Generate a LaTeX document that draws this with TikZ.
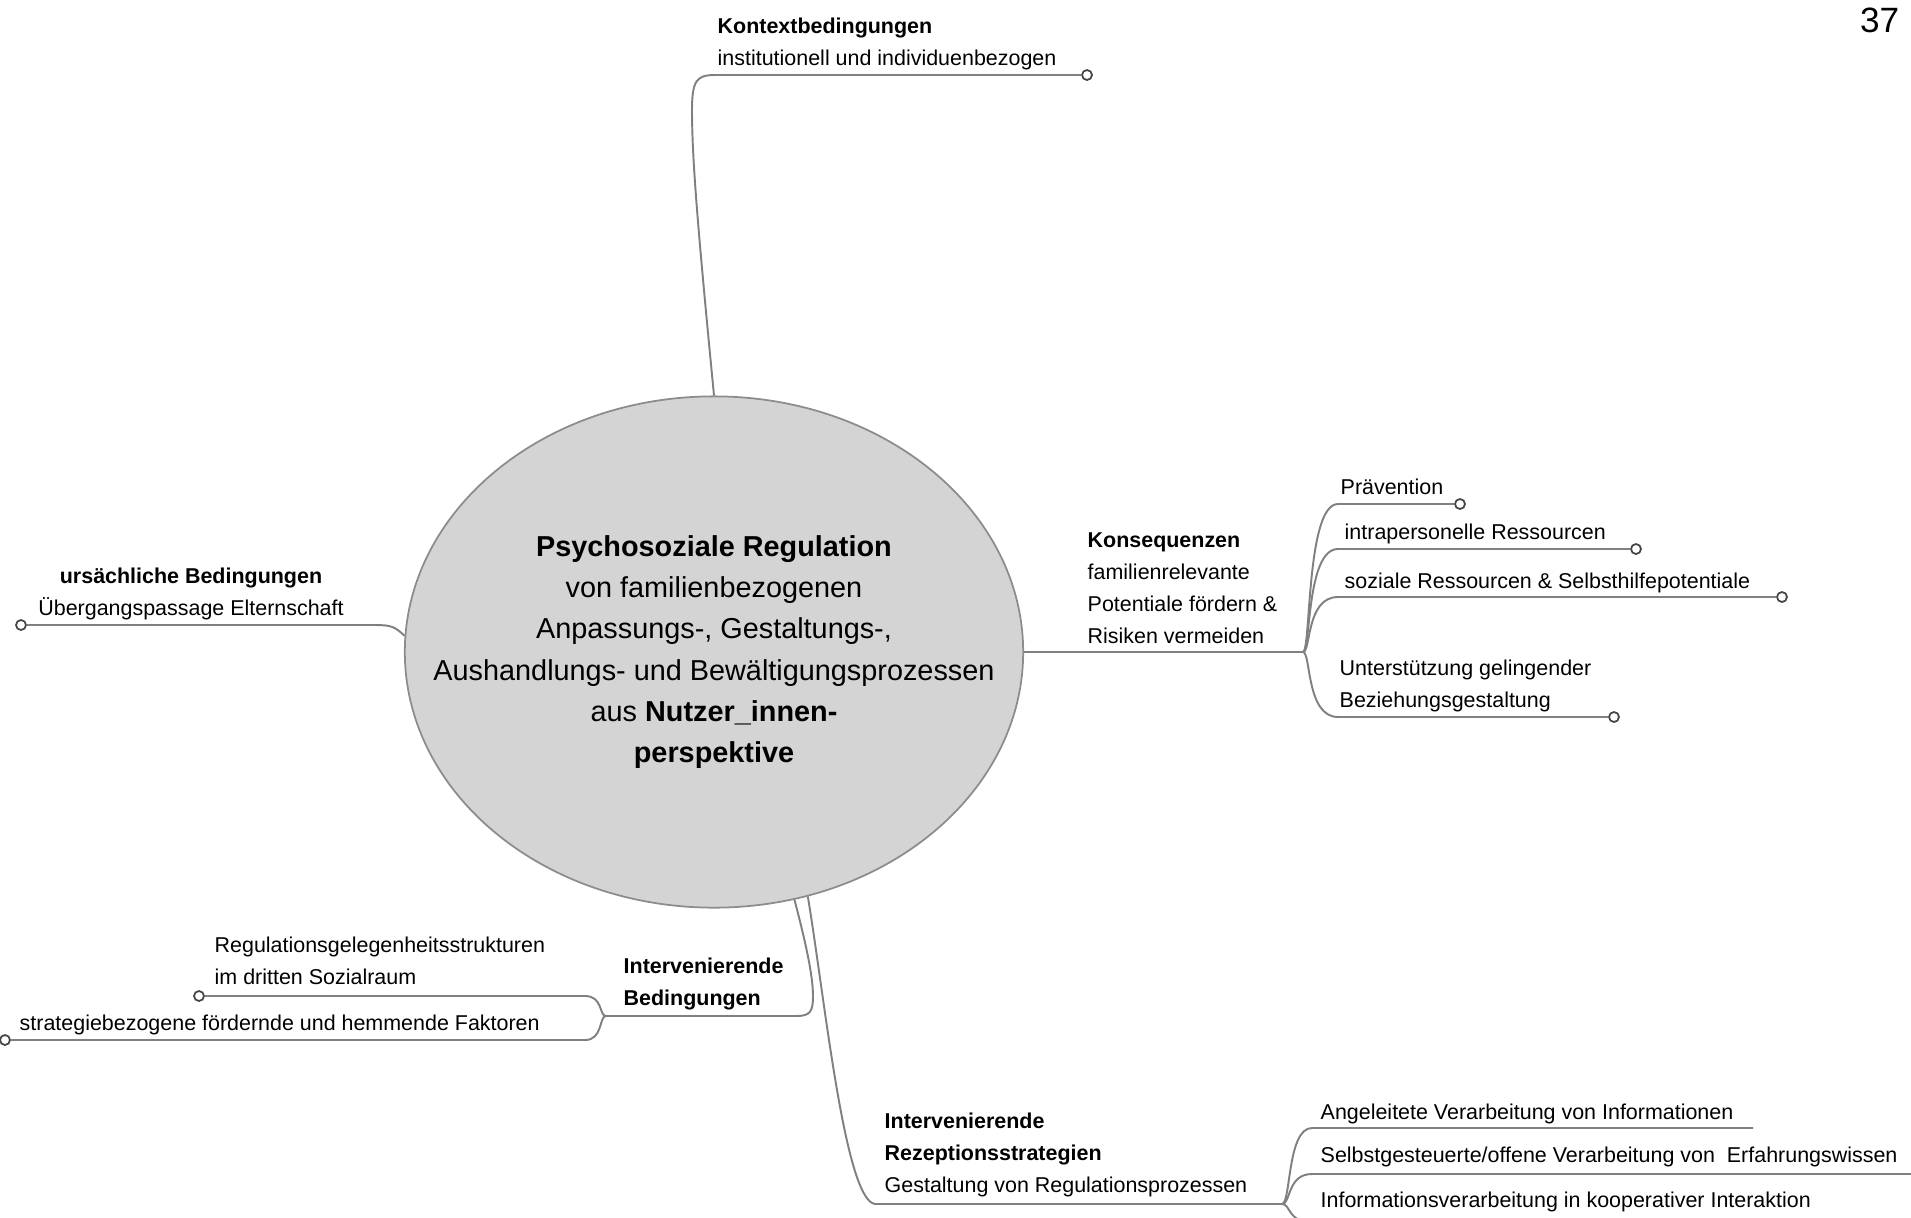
\documentclass[tikz,border=0pt]{standalone}
\usepackage{fontspec}
\setmainfont{Liberation Sans}
\usepackage{tikz}
\usetikzlibrary{shapes.geometric}
\definecolor{linegray}{RGB}{128,128,128}
\definecolor{rootfill}{RGB}{212,212,212}
\definecolor{rootdraw}{RGB}{140,140,140}
\definecolor{enddraw}{RGB}{70,70,70}

\begin{document}
\begin{tikzpicture}[x=0.01cm,y=-0.01cm,
  rootnode/.style={ellipse,draw=rootdraw,fill=rootfill,line width=0.5pt,minimum width=6.18cm,minimum height=5.11cm,inner sep=0pt},
  roottext/.style={inner sep=0pt,align=center,font=\fontsize{8.2}{11.72}\selectfont},
  lbl/.style={anchor=base west,inner sep=0pt,align=left,font=\fontsize{6.1}{9.1}\selectfont},
  endpt/.style={circle,draw=enddraw,fill=white,line width=0.5pt,minimum size=0.1cm,inner sep=0pt},
  branch/.style={draw=linegray,line width=0.55pt}]
\useasboundingbox (0,0) rectangle (1911,1217);
\node[rootnode] (root) at (714,652) {};
\node[roottext] (roottext) at (root.center) {\textbf{Psychosoziale Regulation}\\von familienbezogenen\\Anpassungs-, Gestaltungs-,\\Aushandlungs- und Bewältigungsprozessen\\aus \textbf{Nutzer\_innen-}\\\textbf{perspektive}};
\node[anchor=base east,inner sep=0pt,font=\fontsize{10}{12}\selectfont] (pagenum) at (1900,32) {37};

\node[lbl] (kontext) at (717,65) {\textbf{Kontextbedingungen}\\institutionell und individuenbezogen};
\node[lbl,anchor=base,align=center] (ursache) at (191,615) {\textbf{ursächliche Bedingungen}\\Übergangspassage Elternschaft};
\node[lbl] (kons) at (1087,643) {\textbf{Konsequenzen}\\familienrelevante\\Potentiale fördern \&\\Risiken vermeiden};
\node[lbl] (praev) at (1340,494) {Prävention};
\node[lbl] (intra) at (1344,539) {intrapersonelle Ressourcen};
\node[lbl] (sozial) at (1344,588) {soziale Ressourcen \& Selbsthilfepotentiale};
\node[lbl] (unterst) at (1339,707) {Unterstützung gelingender\\Beziehungsgestaltung};
\node[lbl] (intbed) at (623,1005) {\textbf{Intervenierende}\\\textbf{Bedingungen}};
\node[lbl] (reggel) at (214,984) {Regulationsgelegenheitsstrukturen\\im dritten Sozialraum};
\node[lbl] (strat) at (19,1030) {strategiebezogene fördernde und hemmende Faktoren};
\node[lbl] (rezept) at (884,1192) {\textbf{Intervenierende}\\\textbf{Rezeptionsstrategien}\\Gestaltung von Regulationsprozessen};
\node[lbl] (angel) at (1320,1119) {Angeleitete Verarbeitung von Informationen};
\node[lbl] (selbst) at (1320,1162) {Selbstgesteuerte/offene Verarbeitung von\ \ Erfahrungswissen};
\node[lbl] (infov) at (1320,1207) {Informationsverarbeitung in kooperativer Interaktion};

\node[endpt] (kontext-end) at (1087,75) {};
\node[endpt] (ursache-end) at (21,625) {};
\node[endpt] (praev-end) at (1460,504) {};
\node[endpt] (intra-end) at (1636,549) {};
\node[endpt] (sozial-end) at (1782,597) {};
\node[endpt] (unterst-end) at (1614,717) {};
\node[endpt] (reggel-end) at (199,996) {};
\node[endpt] (strat-end) at (5,1040) {};
\coordinate (angel-end) at (1753,1128);
\coordinate (selbst-end) at (1915,1174);
\coordinate (infov-end) at (1915,1222);
\coordinate (kons-fork) at (1303,652);
\coordinate (intbed-fork) at (606,1016);
\coordinate (rezept-fork) at (1282,1204);

\draw[branch] (root.north) .. controls (698,230) and (692,160) .. (692,110) .. controls (692,80) and (697,75) .. (715,75) -- (kontext-end);
\draw[branch] (root.177) .. controls (395,627) and (392,625) .. (375,625) -- (ursache-end);
\draw[branch] (root.east) -- (kons-fork);
\foreach \b/\y in {praev/504,intra/549,sozial/597,unterst/717}
  \draw[branch] (kons-fork) .. controls (1311,652) and (1306,\y) .. (1338,\y) -- (\b-end);
\draw[branch] (root.288) .. controls (805,940) and (813,975) .. (813,996) .. controls (813,1012) and (810,1016) .. (796,1016) -- (intbed-fork);
\foreach \b/\y in {reggel/996,strat/1040}
  \draw[branch] (intbed-fork) .. controls (599,1016) and (603,\y) .. (585,\y) -- (\b-end);
\draw[branch] (root.291) .. controls (825,1000) and (845,1200) .. (875,1204) -- (rezept-fork);
\foreach \b/\y in {angel/1128,selbst/1174,infov/1222}
  \draw[branch] (rezept-fork) .. controls (1291,1204) and (1287,\y) .. (1312,\y) -- (\b-end);
\end{tikzpicture}
\end{document}
